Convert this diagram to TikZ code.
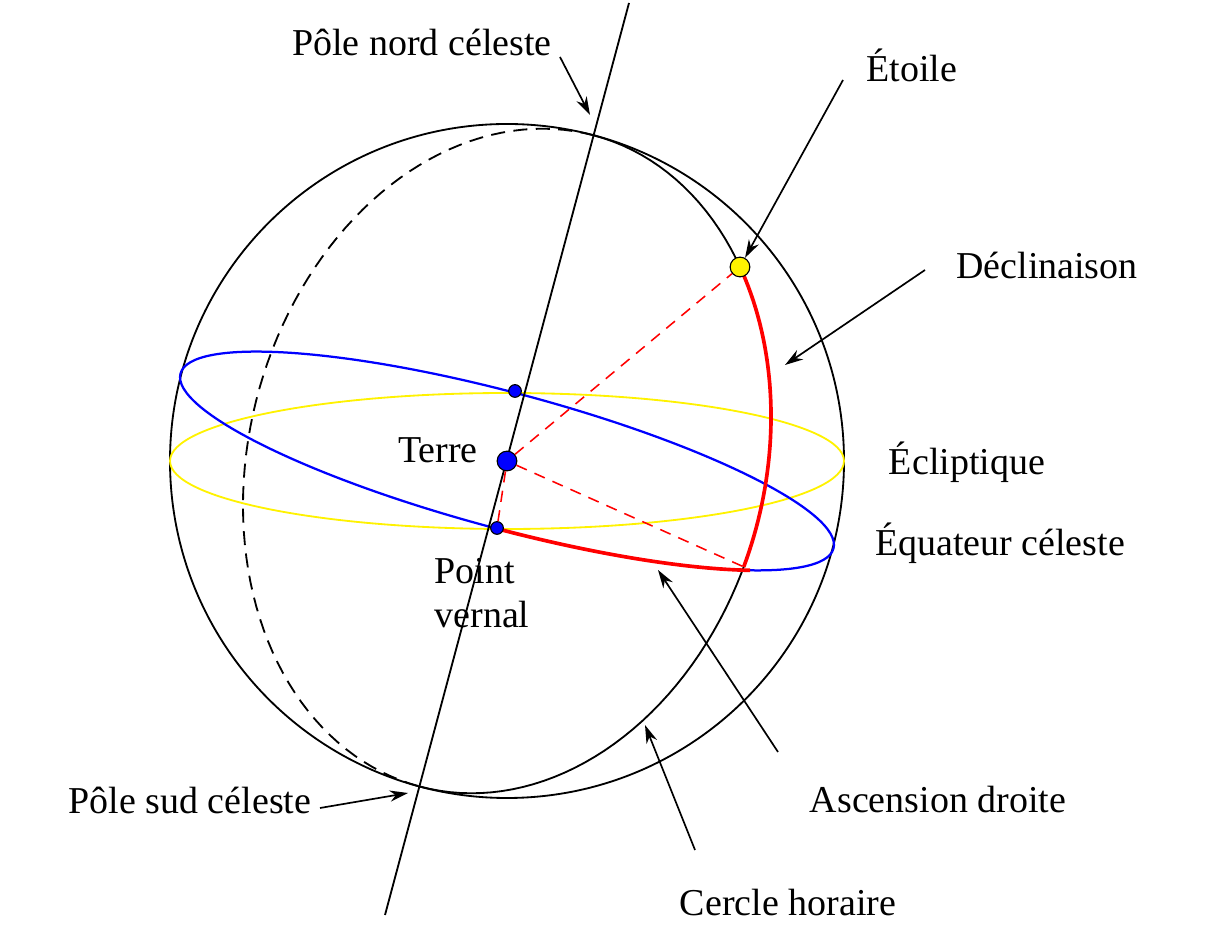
\documentclass[tikz,border=0pt]{standalone}
\usepackage{fontspec}
\setmainfont{Liberation Serif}
\usetikzlibrary{arrows.meta}
\begin{document}
\begin{tikzpicture}[x=0.025cm,y=0.025cm,
  lab/.style={font=\fontsize{27}{31}\selectfont, inner sep=0pt},
  arr/.style={-{Stealth[length=13pt,width=8pt]}, line width=1.2pt},
  dot/.style={circle, fill=blue, draw=black, line width=0.8pt, inner sep=0pt}]
\useasboundingbox (0,0) rectangle (1214,932);
\coordinate (C) at (507,471);
% sphere
\draw[line width=1.3pt] (C) circle (337);
% ecliptic
\draw[yellow, line width=1.3pt] (C) ellipse (337 and 68);
% equator
\draw[blue, line width=1.6pt, rotate around={-15:(C)}] (C) ellipse (338 and 68);
% hour circle
\draw[line width=1.3pt, dash pattern=on 10pt off 6pt, shift={(C)}, rotate=75, domain=0:180, samples=80, variable=\t] plot ({337*cos(\t)},{258*sin(\t)});
\draw[line width=1.3pt, shift={(C)}, rotate=75, domain=180:360, samples=80, variable=\t] plot ({337*cos(\t)},{258*sin(\t)});
% axis
\coordinate (NA) at (629,929);
\coordinate (SA) at (385,17);
\draw[line width=1.3pt] (SA) -- (NA);
% red arcs
\draw[red, line width=2.6pt, shift={(C)}, rotate=75, domain=-42.7:-97, samples=40, variable=\t] plot ({337*cos(\t)},{258*sin(\t)});
\draw[red, line width=2.6pt, shift={(C)}, rotate=-15, domain=-38.9:-88.7, samples=40, variable=\t] plot ({338*cos(\t)},{68*sin(\t)});
% points
\coordinate (X) at (744,365);
\node[dot, minimum size=9pt] (V) at (497,404) {};
\node[dot, minimum size=9pt] (Q) at (515,541) {};
\node[dot, minimum size=14pt] (E) at (C) {};
\node[circle, fill=yellow, draw=black, line width=0.8pt, inner sep=0pt, minimum size=14pt] (S) at (740,665) {};
\draw[red, dashed, line width=1.1pt, dash pattern=on 8pt off 6pt] (E) -- (S) (E) -- (X) (E) -- (V);
% labels
\node[lab] (pn) at (422,890) {Pôle nord céleste};
\draw[arr] (560,875) -- (590,817);
\node[lab] (et) at (912,867) {Étoile};
\draw[arr] (843,852) -- (S);
\node[lab] (de) at (1047,667) {Déclinaison};
\draw[arr] (925,662) -- (785,567);
\node[lab] at (967,470) {Écliptique};
\node[lab] at (1000,389) {Équateur céleste};
\node[lab] at (438,482) {Terre};
\node[lab, align=left] at (482,339) {Point\\vernal};
\node[lab] (ps) at (190,132) {Pôle sud céleste};
\draw[arr] (320,124) -- (408,139);
\node[lab] (ad) at (938,132) {Ascension droite};
\draw[arr] (778,180) -- (658,362);
\node[lab] (ch) at (788,29) {Cercle horaire};
\draw[arr] (695,82) -- (645,207);
\end{tikzpicture}
\end{document}
